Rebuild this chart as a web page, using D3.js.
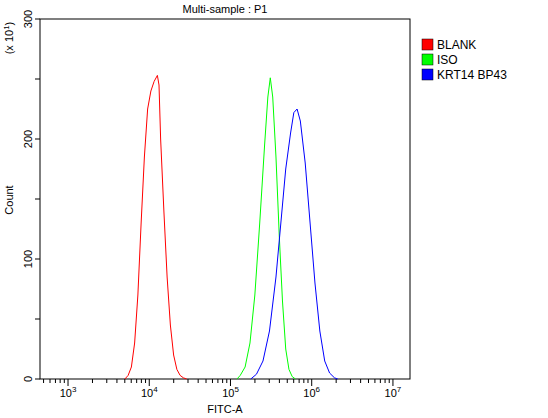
<!DOCTYPE html>
<html><head><meta charset="utf-8">
<script src="https://cdn.jsdelivr.net/npm/d3@7"></script>
<style>body{margin:0;background:#fff}text{font-family:"Liberation Sans",Arial,sans-serif;font-size:11px}</style>
</head><body><svg id="c" width="548" height="418"></svg>
<script>
const seriesNames=["BLANK","ISO","KRT14 BP43"];
const seriesColors=["#ff0000","#00ff00","#0000ff"];
const blank=[[3.70,0],[3.74,3],[3.78,10],[3.82,30],[3.86,70],[3.90,130],[3.94,185],[3.98,225],[4.02,240],[4.06,248],[4.10,253],[4.12,245],[4.14,200],[4.18,140],[4.22,85],[4.26,45],[4.30,20],[4.34,8],[4.38,3],[4.42,1],[4.46,0]];
const iso=[[5.08,0],[5.12,3],[5.18,10],[5.24,30],[5.30,70],[5.36,130],[5.42,195],[5.46,235],[5.49,251],[5.52,235],[5.56,185],[5.60,120],[5.64,65],[5.68,25],[5.72,8],[5.76,2],[5.80,0]];
const krt=[[5.25,0],[5.32,4],[5.40,15],[5.48,40],[5.56,85],[5.62,130],[5.68,175],[5.74,205],[5.78,222],[5.82,225],[5.86,215],[5.92,180],[5.98,130],[6.04,80],[6.10,40],[6.16,15],[6.22,5],[6.28,1],[6.32,0]];
const yTicks=[0,100,200,300];
const xDecades=[3,4,5,6,7];
const svg=d3.select("#c");
const L=40,R=410,T=19,B=379;
const x=d3.scaleLinear().domain([2.655,7.21]).range([L,R]);
const y=d3.scaleLinear().domain([0,300]).range([B,T]);
svg.append("rect").attr("x",L).attr("y",T).attr("width",R-L).attr("height",B-T).attr("fill","none").attr("stroke","#000");
// y ticks
const yMinor=d3.range(0,301,50);
svg.selectAll(".yt").data(yMinor).enter().append("line").attr("x1",L-5).attr("x2",L).attr("y1",d=>y(d)).attr("y2",d=>y(d)).attr("stroke","#000");
svg.selectAll(".yl").data(yTicks).enter().append("text").attr("transform",d=>`translate(${L-8},${y(d)}) rotate(-90)`).attr("text-anchor","middle").text(d=>d);
// x ticks
const minor=[];
for(let e=2;e<=7;e++)for(let m=1;m<10;m++){const v=e+Math.log10(m);if(v>=2.655&&v<=7.21)minor.push({v,major:m===1});}
svg.selectAll(".xt").data(minor).enter().append("line").attr("x1",d=>x(d.v)).attr("x2",d=>x(d.v)).attr("y1",B).attr("y2",d=>B+(d.major?7:4)).attr("stroke","#000");
const xl=svg.selectAll(".xl").data(xDecades).enter().append("text").attr("x",d=>x(d)).attr("y",B+18).attr("text-anchor","middle");
xl.append("tspan").text("10");
xl.append("tspan").attr("dy",-5).attr("font-size","8px").text(d=>d);
svg.append("text").attr("x",225).attr("y",413).attr("text-anchor","middle").text("FITC-A");
svg.append("text").attr("x",225).attr("y",13).attr("text-anchor","middle").text("Multi-sample : P1");
svg.append("text").attr("transform","translate(13,200) rotate(-90)").attr("text-anchor","middle").text("Count");
const u=svg.append("text").attr("transform","translate(13,38) rotate(-90)").attr("text-anchor","middle");
u.append("tspan").text("(x 10");u.append("tspan").attr("dy",-4).attr("font-size","8px").text("1");u.append("tspan").attr("dy",4).text(")");
const line=d3.line().x(d=>x(d[0])).y(d=>y(d[1]));
[blank,iso,krt].forEach((s,i)=>svg.append("path").attr("d",line(s)).attr("fill","none").attr("stroke",seriesColors[i]));
seriesNames.forEach((n,i)=>{
 svg.append("rect").attr("x",422).attr("y",39+i*15).attr("width",11).attr("height",11).attr("fill",seriesColors[i]).attr("stroke","#000").attr("stroke-width",0.5);
 svg.append("text").attr("x",437).attr("y",49+i*15).style("font-size","12px").text(n);
});
</script></body></html>
